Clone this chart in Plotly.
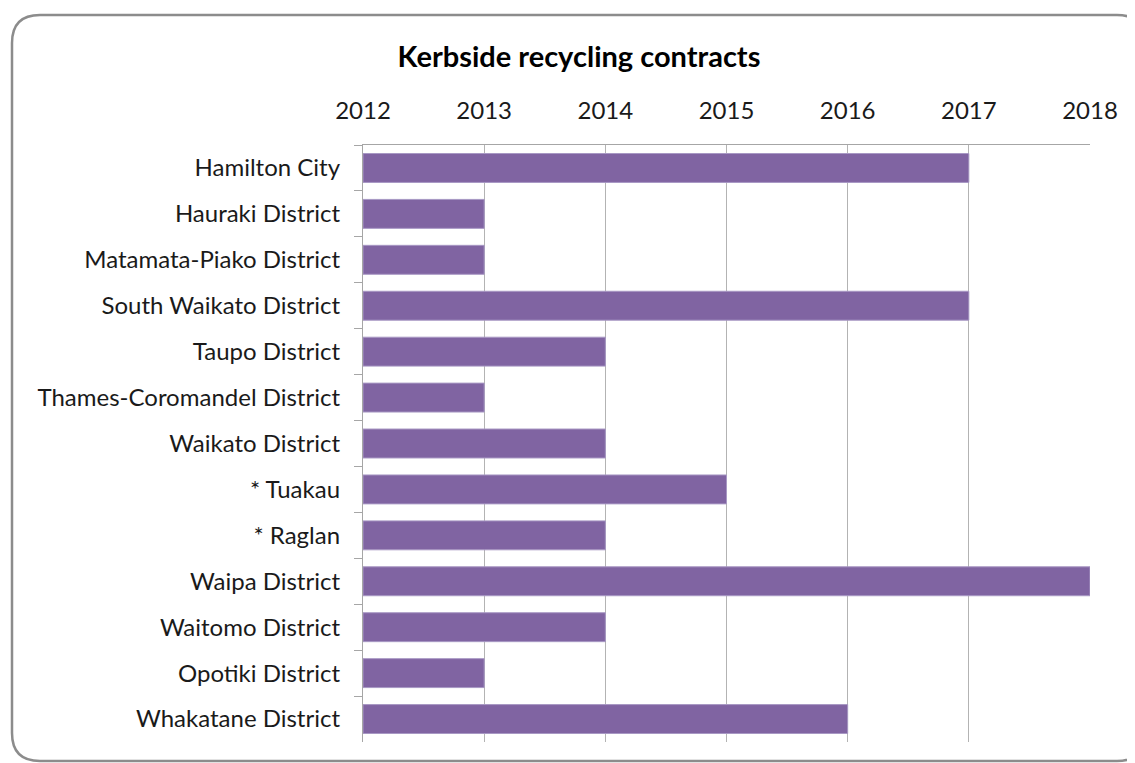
import plotly.graph_objects as go

categories = ["Hamilton City", "Hauraki District", "Matamata-Piako District",
              "South Waikato District", "Taupo District", "Thames-Coromandel District",
              "Waikato District", "* Tuakau", "* Raglan", "Waipa District",
              "Waitomo District", "Opotiki District", "Whakatane District"]
start_year = [2012] * 13
end_year = [2017, 2013, 2013, 2017, 2014, 2013, 2014, 2015, 2014, 2018, 2014, 2013, 2016]
year_ticks = [2012, 2013, 2014, 2015, 2016, 2017, 2018]

durations = [e - s for s, e in zip(start_year, end_year)]

fig = go.Figure(go.Bar(
    y=categories, x=durations, base=start_year, orientation="h",
    marker=dict(color="#8064A2", line=dict(color="#A898C4", width=1)),
    hoverinfo="skip",
))

# page has an 8px body margin; work in figure coordinates offset by 8px
OFF = 8
W, H = 1135 - OFF, 763 - OFF
pl, pt = 363 - OFF, 145 - OFF
pr, pb = W - (1090 - OFF), H - (742 - OFF)

FONT = "Lato"
fig.update_layout(
    width=W, height=H,
    margin=dict(l=pl, r=pr, t=pt, b=pb),
    paper_bgcolor="white", plot_bgcolor="white",
    showlegend=False, bargap=0.37,
    font=dict(family=FONT, size=24, color="#1a1a1a"),
    title=dict(text="<b>Kerbside recycling contracts</b>", x=(579 - OFF) / W, xanchor="center",
               y=1 - (57 - OFF) / H, yanchor="middle", font=dict(family=FONT, size=29, color="#000")),
    xaxis=dict(side="top", range=[2012, 2018], tickvals=year_ticks,
               ticktext=[str(t) for t in year_ticks],
               showgrid=True, gridcolor="#b3b3b3", gridwidth=1.3,
               showline=True, linecolor="#a6a6a6", linewidth=1.3,
               ticks="", ticklabelstandoff=15, zeroline=False, fixedrange=True),
    yaxis=dict(autorange="reversed", showline=True, linecolor="#a6a6a6", linewidth=1.3,
               ticks="outside", tickson="boundaries", ticklen=8, tickcolor="#a6a6a6",
               tickwidth=1.3, showgrid=False, ticklabelstandoff=17, fixedrange=True),
)

pw, ph = W - pl - pr, H - pt - pb
def px(x): return (x - OFF - pl) / pw
def py(y): return (H - pb - (y - OFF)) / ph
x0, y0, x1, y1, r = 12, 15, 1135 + 10, 761, 28
path = (f"M {px(x0 + r)},{py(y0)} L {px(x1 - r)},{py(y0)} "
        f"Q {px(x1)},{py(y0)} {px(x1)},{py(y0 + r)} "
        f"L {px(x1)},{py(y1 - r)} Q {px(x1)},{py(y1)} {px(x1 - r)},{py(y1)} "
        f"L {px(x0 + r)},{py(y1)} Q {px(x0)},{py(y1)} {px(x0)},{py(y1 - r)} "
        f"L {px(x0)},{py(y0 + r)} Q {px(x0)},{py(y0)} {px(x0 + r)},{py(y0)} Z")
fig.layout.shapes = [dict(type="path", xref="paper", yref="paper", path=path,
                          line=dict(color="#8c8c8c", width=2.5), layer="below")]

fig.write_html("out.html")
